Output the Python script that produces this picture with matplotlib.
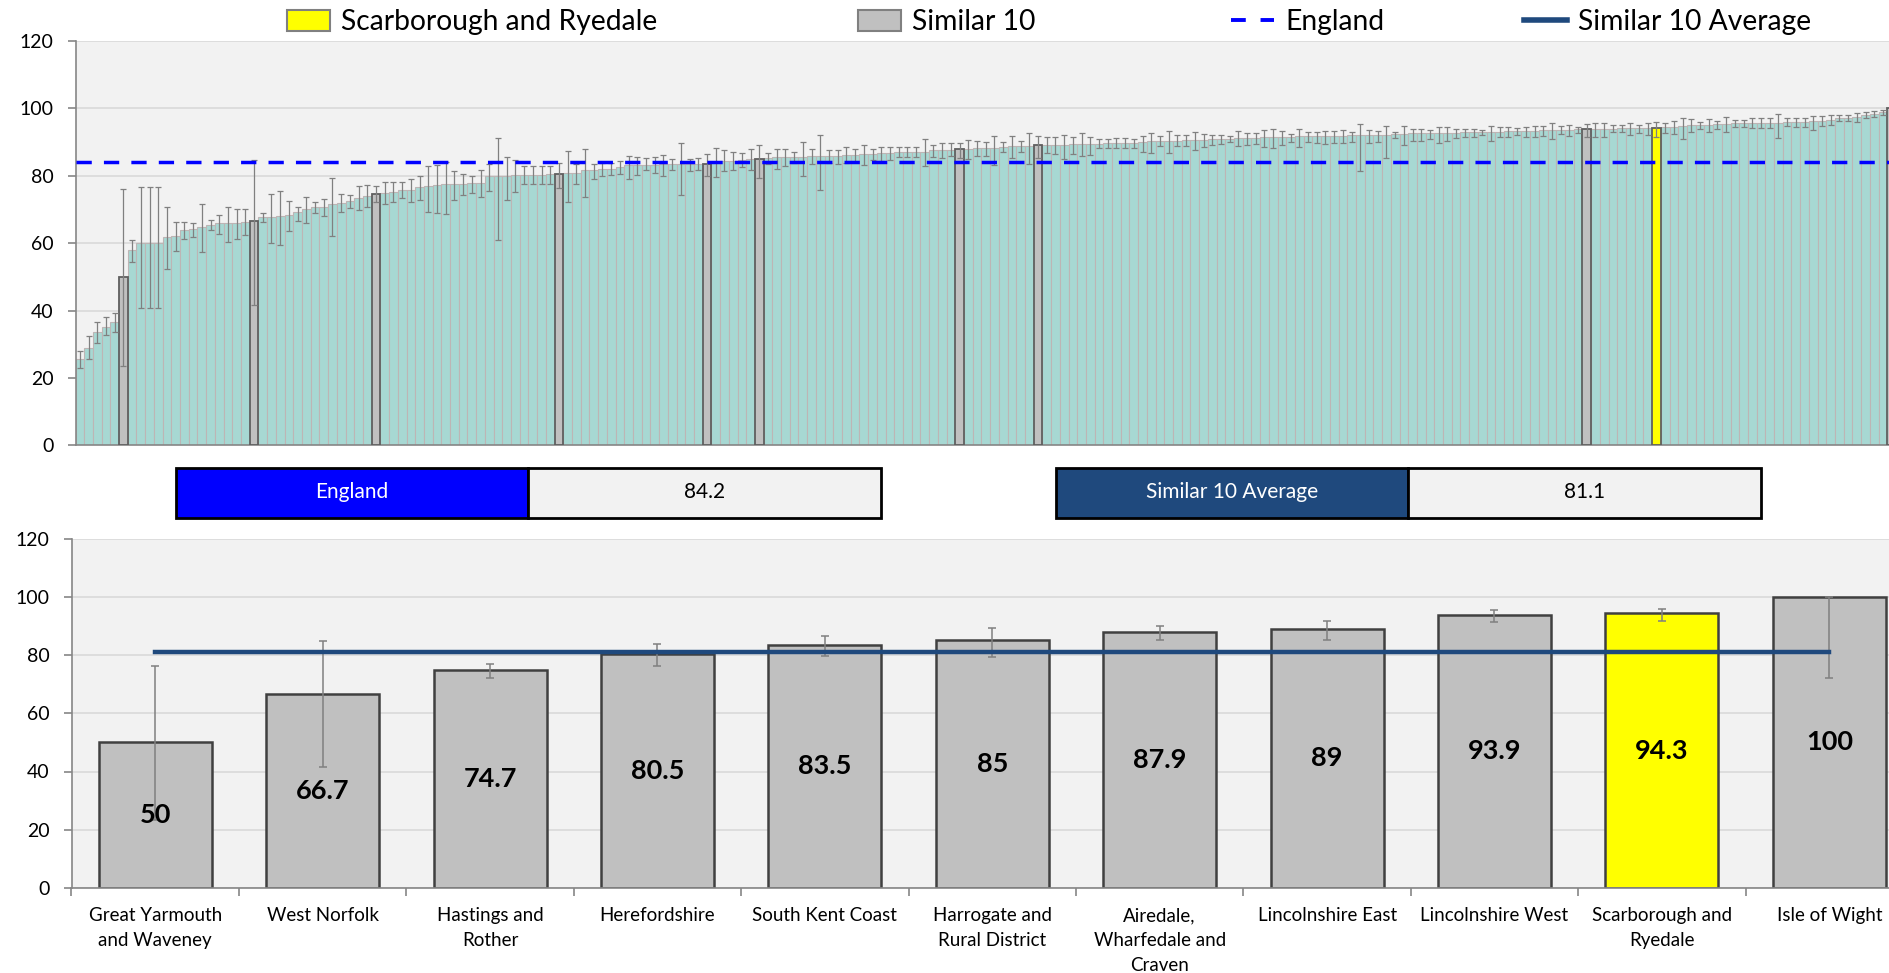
import matplotlib.pyplot as plt
from matplotlib.patches import Rectangle, Patch
from matplotlib.lines import Line2D

# every area, sorted low to high (value, lower CI, upper CI)
all_values = [
    25.5, 29.0, 33.5, 35.2, 36.5, 50.0, 57.9, 60.0, 60.0, 60.0,
    61.9, 62.1, 63.9, 64.2, 64.7, 65.5, 65.9, 66.0, 66.1, 66.4,
    66.7, 67.7, 67.9, 68.1, 68.4, 69.2, 70.0, 70.6, 70.8, 71.6,
    72.0, 72.4, 73.3, 74.1, 74.7, 75.0, 75.3, 75.8, 75.9, 76.6,
    76.9, 77.2, 77.5, 77.6, 77.7, 77.8, 78.0, 80.0, 80.0, 80.0,
    80.1, 80.2, 80.2, 80.3, 80.4, 80.5, 80.7, 80.9, 81.7, 81.7,
    81.9, 82.1, 82.7, 83.1, 83.2, 83.3, 83.3, 83.4, 83.4, 83.4,
    83.5, 83.5, 83.5, 84.2, 84.4, 84.5, 84.7, 84.9, 85.0, 85.3,
    85.5, 85.6, 85.6, 85.7, 85.8, 85.8, 85.9, 86.0, 86.2, 86.3,
    86.4, 86.5, 86.7, 86.9, 87.1, 87.1, 87.2, 87.2, 87.5, 87.6,
    87.7, 87.9, 88.0, 88.1, 88.1, 88.3, 88.6, 88.9, 88.9, 88.9,
    89.0, 89.1, 89.1, 89.2, 89.3, 89.3, 89.4, 89.5, 89.6, 89.6,
    89.6, 89.8, 90.0, 90.2, 90.3, 90.3, 90.4, 90.5, 90.6, 90.7,
    90.8, 91.0, 91.0, 91.2, 91.2, 91.3, 91.4, 91.5, 91.6, 91.6,
    91.7, 91.7, 91.8, 91.8, 91.8, 91.9, 92.0, 92.0, 92.1, 92.2,
    92.2, 92.4, 92.5, 92.6, 92.6, 92.7, 92.7, 92.8, 92.8, 92.9,
    92.9, 93.0, 93.1, 93.1, 93.2, 93.2, 93.3, 93.4, 93.5, 93.5,
    93.6, 93.7, 93.8, 93.9, 94.0, 94.0, 94.0, 94.1, 94.1, 94.2,
    94.2, 94.3, 94.4, 94.6, 94.8, 95.0, 95.1, 95.2, 95.3, 95.5,
    95.6, 95.6, 95.7, 95.7, 95.8, 95.8, 95.9, 96.0, 96.0, 96.2,
    96.4, 96.6, 97.0, 97.2, 97.4, 98.0, 98.3, 98.8, 100.0,
]
all_lower = [
    22.9, 25.7, 30.5, 32.6, 33.6, 23.5, 54.5, 40.8, 40.8, 40.8,
    52.3, 57.7, 61.3, 61.8, 57.3, 64.0, 62.6, 60.2, 61.3, 62.3,
    41.6, 66.2, 60.1, 59.4, 63.6, 66.6, 66.1, 69.0, 68.2, 62.0,
    69.2, 70.3, 69.8, 70.6, 72.2, 71.7, 72.3, 73.4, 72.2, 72.8,
    69.3, 69.0, 68.7, 72.8, 74.4, 75.0, 73.8, 75.5, 60.8, 72.8,
    75.1, 77.5, 77.5, 77.5, 77.5, 76.3, 72.3, 77.7, 73.6, 79.0,
    79.9, 80.1, 80.5, 79.1, 80.1, 81.7, 80.7, 79.9, 81.7, 74.3,
    81.5, 81.7, 79.8, 79.5, 81.3, 81.7, 82.7, 81.6, 79.2, 83.4,
    82.1, 82.9, 83.8, 79.9, 83.5, 75.7, 83.9, 83.5, 83.7, 84.1,
    83.3, 84.7, 84.3, 84.7, 85.7, 85.5, 85.7, 82.9, 85.6, 85.2,
    85.9, 85.3, 84.9, 85.9, 85.9, 83.1, 87.2, 85.4, 87.2, 83.6,
    85.3, 86.7, 86.5, 84.9, 86.5, 85.9, 86.1, 88.1, 88.1, 88.1,
    88.2, 88.3, 87.1, 86.9, 88.7, 86.9, 88.7, 88.7, 87.5, 88.4,
    89.0, 89.4, 90.1, 88.7, 89.1, 89.3, 88.4, 88.2, 89.1, 90.1,
    88.4, 90.0, 89.6, 89.3, 89.6, 89.6, 90.1, 81.5, 89.6, 90.1,
    85.4, 91.1, 89.0, 90.3, 90.3, 91.0, 89.8, 90.2, 91.1, 91.4,
    91.4, 92.0, 90.4, 91.6, 91.6, 92.0, 91.6, 91.6, 91.8, 90.8,
    92.3, 91.8, 92.8, 91.4, 91.4, 91.6, 93.0, 93.0, 92.0, 92.6,
    92.0, 91.6, 92.6, 92.4, 90.8, 93.1, 94.0, 93.1, 94.0, 93.0,
    94.4, 94.6, 94.1, 94.2, 94.2, 91.1, 94.8, 94.6, 94.6, 93.6,
    94.8, 95.0, 96.2, 96.4, 96.0, 97.0, 97.4, 98.0, 72.2,
]
all_upper = [
    28.1, 32.4, 36.6, 38.0, 39.4, 76.2, 61.0, 76.8, 76.8, 76.8,
    70.6, 66.4, 66.4, 66.1, 71.5, 66.9, 68.5, 70.6, 70.1, 70.0,
    84.8, 69.0, 74.5, 75.6, 72.4, 70.8, 73.8, 72.2, 73.0, 79.2,
    74.5, 74.2, 77.1, 77.3, 76.9, 78.1, 78.1, 78.1, 78.9, 79.8,
    82.8, 83.3, 84.1, 81.4, 80.5, 80.0, 81.6, 83.6, 91.3, 85.7,
    84.6, 82.8, 82.8, 82.8, 82.8, 83.9, 87.4, 83.6, 88.0, 83.5,
    83.9, 83.9, 84.5, 86.0, 85.6, 85.3, 85.5, 86.1, 85.1, 89.6,
    85.1, 85.4, 86.4, 88.1, 87.5, 87.1, 86.9, 88.0, 89.1, 86.9,
    88.0, 88.0, 87.2, 90.1, 87.9, 92.0, 87.7, 87.7, 88.5, 87.9,
    89.1, 87.9, 88.6, 88.6, 88.4, 88.6, 88.6, 91.0, 89.1, 89.8,
    89.8, 89.8, 90.6, 90.2, 90.0, 91.8, 90.0, 91.8, 90.4, 92.7,
    91.8, 91.4, 91.4, 92.1, 91.6, 92.8, 91.6, 90.9, 90.9, 91.1,
    91.1, 91.0, 91.8, 92.8, 91.9, 93.3, 92.0, 92.0, 93.1, 92.4,
    92.1, 92.2, 91.9, 93.2, 92.6, 92.8, 93.6, 93.8, 93.4, 92.4,
    94.0, 93.0, 93.0, 93.4, 93.4, 93.6, 93.1, 95.5, 93.6, 93.4,
    94.9, 93.1, 94.8, 94.0, 94.0, 93.6, 94.4, 94.4, 94.0, 94.0,
    93.8, 93.6, 94.9, 94.4, 94.4, 94.2, 94.6, 94.8, 94.8, 95.6,
    94.9, 95.1, 94.5, 95.5, 95.8, 95.8, 95.0, 95.0, 95.6, 95.2,
    95.8, 95.9, 95.8, 96.3, 97.1, 96.8, 96.0, 96.9, 96.4, 97.3,
    96.6, 96.6, 97.0, 97.0, 97.0, 98.2, 97.0, 97.2, 97.0, 97.8,
    97.8, 97.9, 97.9, 98.1, 98.5, 98.9, 99.1, 99.5, 100.0,
]
similar_pos = [5, 20, 34, 55, 72, 78, 101, 110, 173, 208]
local_pos = 181

# the local area and its 10 similar areas
similar_names = [
    'Great Yarmouth\nand Waveney', 'West Norfolk', 'Hastings and\nRother',
    'Herefordshire', 'South Kent Coast', 'Harrogate and\nRural District',
    'Airedale,\nWharfedale and\nCraven', 'Lincolnshire East', 'Lincolnshire West',
    'Scarborough and\nRyedale', 'Isle of Wight',
]
similar_values = [50, 66.7, 74.7, 80.5, 83.5, 85, 87.9, 89, 93.9, 94.3, 100]
similar_lower = [23.5, 41.6, 72.2, 76.3, 79.8, 79.2, 85.3, 85.3, 91.4, 91.6, 72.2]
similar_upper = [76.2, 84.8, 76.9, 83.9, 86.4, 89.1, 89.8, 91.8, 95.5, 95.9, 100]
local_name = 'Scarborough and\nRyedale'

england_value = 84.2
similar_avg = 81.1

TEAL = '#A7D8D3'
GREY = '#C0C0C0'
YELLOW = '#FFFF00'
BLUE = '#0000FF'
NAVY = '#1F497D'
BG = '#F2F2F2'

plt.rcParams['font.family'] = ['Lato', 'DejaVu Sans']

W, H = 1889, 973
fig = plt.figure(figsize=(W / 100, H / 100), dpi=100)


def box(left, top, right, bottom):
    return [left / W, 1 - bottom / H, (right - left) / W, (bottom - top) / H]


def style_y(ax):
    ax.set_facecolor(BG)
    ax.set_ylim(0, 120)
    ax.set_yticks(range(0, 121, 20))
    ax.grid(axis='y', color='#D9D9D9', lw=1.2, zorder=0)
    ax.set_axisbelow(True)
    for s in ['top', 'right']:
        ax.spines[s].set_visible(False)
    for s in ['left', 'bottom']:
        ax.spines[s].set_color('#868686')
        ax.spines[s].set_linewidth(1.2)
    ax.tick_params(axis='y', length=6, width=1.2, color='#868686', pad=10,
                   labelsize=14)


# ---- top chart: all areas ----
ax1 = fig.add_axes(box(75.5, 41, 1896, 445.3))
style_y(ax1)
n = len(all_values)
xs = list(range(n))
plain = [i for i in xs if i not in similar_pos and i != local_pos]
ax1.bar(plain, [all_values[i] for i in plain], width=1.0, color=TEAL,
        edgecolor='#BDB5B5', linewidth=0.8, zorder=2)
ax1.bar(similar_pos, [all_values[i] for i in similar_pos], width=1.0,
        color=GREY, edgecolor='#5F5F5F', linewidth=1.3, zorder=3)
ax1.bar([local_pos], [all_values[local_pos]], width=1.0, color=YELLOW,
        edgecolor='#5F5F5F', linewidth=1.3, zorder=3)
ax1.errorbar(xs, all_values,
             yerr=[[v - lo for v, lo in zip(all_values, all_lower)],
                   [hi - v for v, hi in zip(all_values, all_upper)]],
             fmt='none', ecolor='#808080', elinewidth=0.9, capsize=2.2,
             capthick=0.9, zorder=4)
ax1.axhline(england_value, color=BLUE, lw=2.5, dashes=(4.4, 3.5), zorder=5)
ax1.set_xlim(-0.5, n - 0.5)
ax1.set_xticks([])

# ---- legend ----
fs = 20.3
items = [
    (287, Patch(facecolor=YELLOW, edgecolor='#808080', lw=1.5), 'Scarborough and Ryedale'),
    (858, Patch(facecolor=GREY, edgecolor='#808080', lw=1.5), 'Similar 10'),
    (1231, Line2D([], [], color=BLUE, lw=2.8, dashes=(3.8, 3.8)), 'England'),
    (1524, Line2D([], [], color=NAVY, lw=4), 'Similar 10 Average'),
]
for xpos, handle, label in items:
    fig.legend([handle], [label], loc='center left',
               bbox_to_anchor=(xpos / W, 1 - 22 / H), frameon=False,
               fontsize=fs, borderpad=0, borderaxespad=0,
               handlelength=1.52, handleheight=0.78, handletextpad=0.4)

# ---- value boxes ----
boxes = [
    (176, 527.5, 881, 'England', BLUE, england_value),
    (1056, 1407.5, 1761, 'Similar 10 Average', NAVY, similar_avg),
]
top_b, bot_b = 467.5, 517.5
for left, mid, right, label, col, val in boxes:
    fig.patches.append(Rectangle((left / W, 1 - bot_b / H), (mid - left) / W,
                                 (bot_b - top_b) / H, transform=fig.transFigure,
                                 facecolor=col, edgecolor='black', lw=2))
    fig.patches.append(Rectangle((mid / W, 1 - bot_b / H), (right - mid) / W,
                                 (bot_b - top_b) / H, transform=fig.transFigure,
                                 facecolor=BG, edgecolor='black', lw=2))
    yc = 1 - (top_b + bot_b) / 2 / H
    fig.text((left + mid) / 2 / W, yc, label, color='white', fontsize=15,
             ha='center', va='center')
    fig.text((mid + right) / 2 / W, yc, f'{val:g}', color='black', fontsize=15,
             ha='center', va='center')

# ---- bottom chart: similar 10 ----
ax2 = fig.add_axes(box(71.5, 538.5, 1913, 888))
style_y(ax2)
pos = list(range(len(similar_names)))
cols = [YELLOW if nm == local_name else GREY for nm in similar_names]
ax2.bar(pos, similar_values, width=0.675, color=cols, edgecolor='#404040',
        linewidth=1.8, zorder=2)
ax2.errorbar(pos, similar_values,
             yerr=[[v - lo for v, lo in zip(similar_values, similar_lower)],
                   [hi - v for v, hi in zip(similar_values, similar_upper)]],
             fmt='none', ecolor='#808080', elinewidth=1.1, capsize=3.2,
             capthick=1.1, zorder=3)
ax2.plot(pos, [similar_avg] * len(pos), color=NAVY, lw=3.2, zorder=4)
for p, v in zip(pos, similar_values):
    ax2.text(p, v / 2, f'{v:g}', ha='center', va='center', fontsize=19.5,
             fontweight='bold', color='black', zorder=5)
ax2.set_xlim(-0.5, len(pos) - 0.5)
ax2.set_xticks([p - 0.5 for p in pos] + [pos[-1] + 0.5])
ax2.set_xticklabels([])
ax2.set_xticks(pos, minor=True)
ax2.set_xticklabels(similar_names, minor=True, fontsize=13.5, linespacing=1.55)
ax2.tick_params(axis='x', which='major', length=6, width=1.2, color='#868686')
ax2.tick_params(axis='x', which='minor', length=0, pad=14)

fig.savefig('out.png', dpi=100)
